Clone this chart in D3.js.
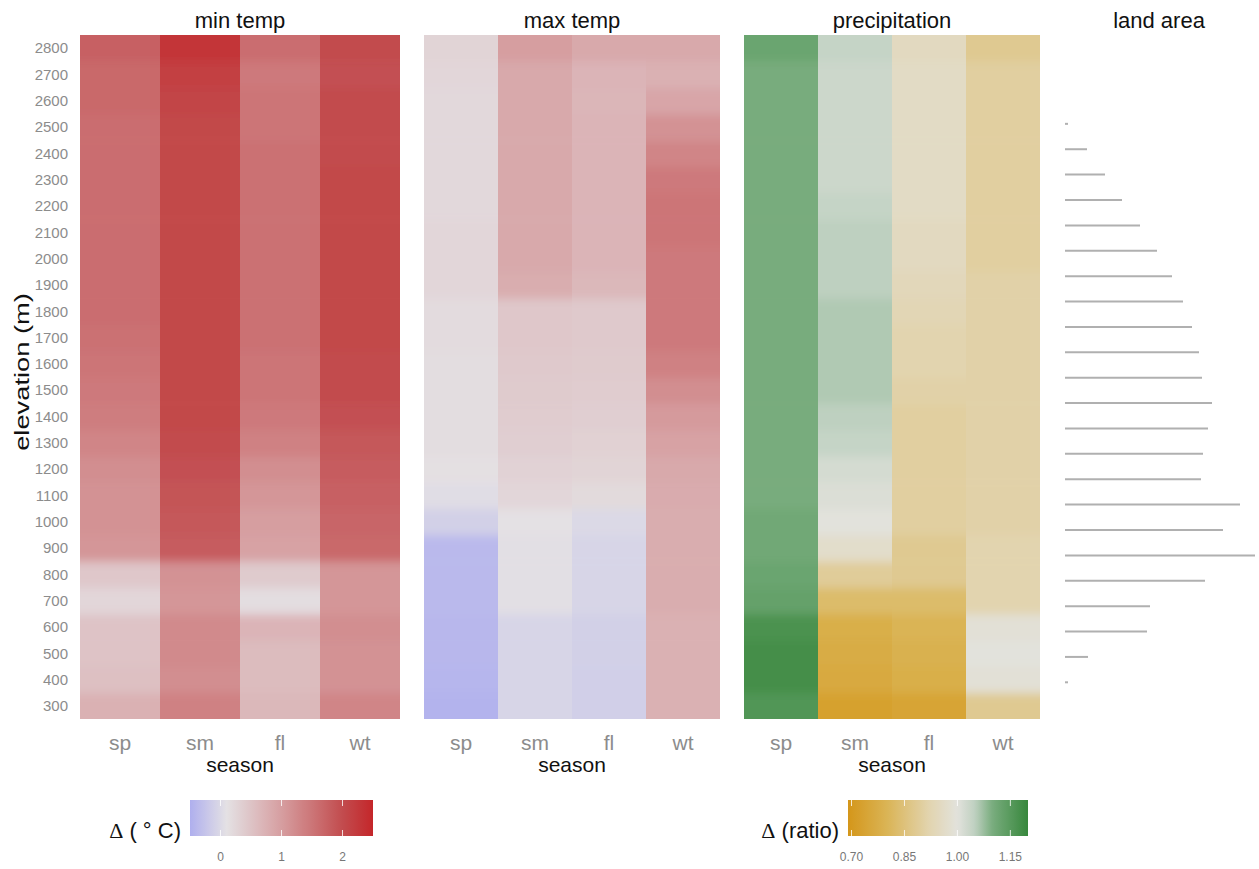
<!DOCTYPE html>
<html>
<head>
<meta charset="utf-8">
<script src="https://cdn.jsdelivr.net/npm/d3@7"></script>
<style>
  body { margin: 0; background: #fff; }
  svg { display: block; font-family: "Liberation Sans", Arial, sans-serif; }
</style>
</head>
<body>
<svg id="chart" width="1259" height="869"></svg>
<script>
// ---- data -------------------------------------------------------------
const seasons = ["sp", "sm", "fl", "wt"];
// elevation bins (m), 100 m wide, bottom to top
const elevations = [300, 400, 500, 600, 700, 800, 900, 1000, 1100, 1200, 1300, 1400, 1500,
  1600, 1700, 1800, 1900, 2000, 2100, 2200, 2300, 2400, 2500, 2600, 2700, 2800];

// change in minimum temperature (°C), one row per season, bottom to top
const minTemp = [
  [0.75, 0.55, 0.5, 0.5, 0.25, 0.45, 1.1, 1.15, 1.15, 1.2, 1.3, 1.4, 1.45, 1.5, 1.55, 1.6, 1.6, 1.6, 1.6, 1.6, 1.6, 1.6, 1.6, 1.65, 1.65, 1.75],
  [1.35, 1.2, 1.25, 1.25, 1.1, 1.15, 1.8, 1.85, 1.9, 1.95, 2.0, 2.05, 2.05, 2.05, 2.05, 2.05, 2.05, 2.05, 2.05, 2.05, 2.05, 2.05, 2.05, 2.1, 2.15, 2.3],
  [0.65, 0.6, 0.6, 0.7, 0.15, 0.4, 0.95, 1.0, 1.1, 1.2, 1.35, 1.45, 1.5, 1.5, 1.55, 1.55, 1.55, 1.55, 1.55, 1.55, 1.55, 1.55, 1.5, 1.5, 1.45, 1.6],
  [1.3, 1.15, 1.15, 1.2, 1.1, 1.1, 1.65, 1.7, 1.75, 1.8, 1.85, 1.95, 2.0, 2.0, 2.05, 2.05, 2.05, 2.05, 2.05, 2.05, 2.05, 2.0, 2.0, 2.0, 1.95, 2.0]
];

// change in maximum temperature (°C)
const maxTemp = [
  [-0.45, -0.42, -0.4, -0.4, -0.38, -0.38, -0.38, -0.1, 0.05, 0.12, 0.15, 0.15, 0.15, 0.15, 0.18, 0.18, 0.25, 0.25, 0.25, 0.22, 0.22, 0.22, 0.22, 0.22, 0.25, 0.28],
  [-0.05, -0.05, -0.05, -0.05, 0.08, 0.08, 0.08, 0.1, 0.25, 0.3, 0.35, 0.38, 0.4, 0.42, 0.45, 0.45, 0.8, 0.85, 0.85, 0.85, 0.85, 0.85, 0.85, 0.85, 0.85, 1.0],
  [-0.12, -0.12, -0.1, -0.1, -0.05, -0.05, -0.05, 0.0, 0.2, 0.28, 0.32, 0.35, 0.38, 0.4, 0.42, 0.42, 0.65, 0.7, 0.7, 0.7, 0.7, 0.7, 0.7, 0.68, 0.7, 0.85],
  [0.75, 0.75, 0.75, 0.75, 0.8, 0.8, 0.8, 0.8, 0.82, 0.85, 0.95, 1.05, 1.2, 1.35, 1.45, 1.45, 1.45, 1.45, 1.5, 1.5, 1.45, 1.3, 1.15, 0.9, 0.75, 0.85]
];

// change in precipitation (ratio)
const precip = [
  [1.16, 1.18, 1.18, 1.17, 1.13, 1.12, 1.11, 1.11, 1.1, 1.1, 1.1, 1.1, 1.1, 1.1, 1.1, 1.1, 1.1, 1.1, 1.1, 1.1, 1.1, 1.1, 1.1, 1.1, 1.1, 1.12],
  [0.73, 0.76, 0.77, 0.78, 0.83, 0.89, 0.97, 1.0, 1.01, 1.02, 1.04, 1.05, 1.06, 1.06, 1.06, 1.06, 1.05, 1.05, 1.05, 1.04, 1.03, 1.03, 1.03, 1.03, 1.03, 1.04],
  [0.74, 0.78, 0.79, 0.8, 0.83, 0.88, 0.88, 0.9, 0.9, 0.9, 0.9, 0.9, 0.91, 0.92, 0.92, 0.93, 0.94, 0.95, 0.95, 0.96, 0.96, 0.96, 0.96, 0.96, 0.96, 0.95],
  [0.88, 0.99, 1.0, 0.99, 0.92, 0.92, 0.92, 0.91, 0.91, 0.91, 0.91, 0.91, 0.91, 0.91, 0.91, 0.91, 0.91, 0.9, 0.9, 0.9, 0.9, 0.9, 0.9, 0.9, 0.9, 0.88]
];

// land area per elevation band (relative units)
const landElev = [300, 400, 500, 600, 700, 800, 900, 1000, 1100, 1200, 1300, 1400,
  1500, 1600, 1700, 1800, 1900, 2000, 2100, 2200, 2300, 2400, 2500];
const landArea = [3, 23, 82, 85, 140, 190, 158, 175, 136, 138, 143, 147,
  137, 134, 127, 118, 107, 92, 75, 57, 40, 22, 3];

const tempTicks = [0, 1, 2];
const ratioTicks = [0.70, 0.85, 1.00, 1.15];

// ---- scales -----------------------------------------------------------
const tempColor = d3.scaleLinear()
  .domain([-0.5, 0.1, 1.0, 2.0, 2.5])
  .range(["#afafee", "#e4e1e4", "#d69ea0", "#c24c4e", "#c4262a"])
  .clamp(true);

const ratioColor = d3.scaleLinear()
  .domain([0.69, 0.80, 0.92, 1.00, 1.05, 1.10, 1.20])
  .range(["#d4961a", "#dab455", "#e2d4af", "#e2e2dc", "#bed0c0", "#78ac7d", "#37873c"])
  .clamp(true);

const svg = d3.select("#chart");
const defs = svg.append("defs");

const y = d3.scaleLinear().domain([250, 2850]).range([719, 35]);

const panels = [
  { title: "min temp", data: minTemp, x0: 80, x1: 400, color: tempColor },
  { title: "max temp", data: maxTemp, x0: 424, x1: 720, color: tempColor },
  { title: "precipitation", data: precip, x0: 744, x1: 1040, color: ratioColor }
];

// soft smoothing of the tiles, mostly along elevation
defs.append("filter").attr("id", "vsoft")
  .attr("filterUnits", "userSpaceOnUse")
  .attr("x", 0).attr("y", 0).attr("width", 1259).attr("height", 869)
  .append("feGaussianBlur").attr("stdDeviation", "0.6 5");

panels.forEach((p, pi) => {
  const x = d3.scaleBand().domain(seasons).range([p.x0, p.x1]);
  const clipId = "clip" + pi;
  defs.append("clipPath").attr("id", clipId)
    .append("rect")
    .attr("x", p.x0).attr("y", y.range()[1])
    .attr("width", p.x1 - p.x0).attr("height", y.range()[0] - y.range()[1]);

  const g = svg.append("g").attr("clip-path", `url(#${clipId})`)
    .append("g").attr("filter", "url(#vsoft)");

  const cells = [];
  seasons.forEach((s, si) => {
    elevations.forEach((e, ei) => {
      cells.push({
        season: s, elev: e, value: p.data[si][ei],
        first: ei === 0, last: ei === elevations.length - 1,
        left: si === 0, right: si === seasons.length - 1
      });
    });
  });

  // edge tiles reach a little past the panel so the smoothing does not fade the border
  g.selectAll("rect").data(cells).join("rect")
    .attr("x", d => x(d.season) - (d.left ? 4 : 0))
    .attr("width", d => x.bandwidth() + (d.left ? 4 : 0) + (d.right ? 4 : 0))
    .attr("y", d => y(d.elev + 50) - (d.last ? 16 : 0))
    .attr("height", d => y(d.elev - 50) - y(d.elev + 50) + 0.6 + (d.last ? 16 : 0) + (d.first ? 16 : 0))
    .attr("fill", d => p.color(d.value));

  // panel title
  svg.append("text")
    .attr("x", (p.x0 + p.x1) / 2).attr("y", 28)
    .attr("text-anchor", "middle")
    .attr("font-size", 22).attr("fill", "#111")
    .text(p.title);

  // season axis
  const ax = svg.append("g").attr("transform", `translate(0,${y.range()[0]})`)
    .call(d3.axisBottom(x).tickSize(0).tickPadding(16));
  ax.select(".domain").remove();
  ax.selectAll("text").attr("font-size", 21).attr("fill", "#8c8c8c");

  svg.append("text")
    .attr("x", (p.x0 + p.x1) / 2).attr("y", 772)
    .attr("text-anchor", "middle")
    .attr("font-size", 21).attr("fill", "#111")
    .text("season");
});

// elevation axis
const ay = svg.append("g").attr("transform", "translate(80,0)")
  .call(d3.axisLeft(y).tickValues(elevations).tickFormat(d3.format("d")).tickSize(0).tickPadding(12));
ay.select(".domain").remove();
ay.selectAll("text").attr("font-size", 15).attr("fill", "#8c8c8c");

svg.append("text")
  .attr("transform", "translate(29,372) rotate(-90) scale(1.3,1)")
  .attr("text-anchor", "middle")
  .attr("font-size", 21).attr("fill", "#111")
  .text("elevation (m)");

// ---- land area --------------------------------------------------------
const landY = d3.scaleLinear().domain([250, 2850]).range([695, 35]);
const landX = d3.scaleLinear().domain([0, 194]).range([1065, 1259]);

svg.append("text")
  .attr("x", 1159).attr("y", 28)
  .attr("text-anchor", "middle")
  .attr("font-size", 22).attr("fill", "#111")
  .text("land area");

svg.append("g").selectAll("line").data(landElev).join("line")
  .attr("x1", landX(0))
  .attr("x2", (d, i) => landX(landArea[i]))
  .attr("y1", d => landY(d)).attr("y2", d => landY(d))
  .attr("stroke", "#b0b0b0").attr("stroke-width", 2);

// ---- colour legends ---------------------------------------------------
function legend(scale, domain, ticks, x0, x1, titleParts, fmt, id) {
  const lx = d3.scaleLinear().domain(domain).range([x0, x1]);
  const grad = defs.append("linearGradient").attr("id", id);
  d3.range(0, 1.0001, 0.02).forEach(t => {
    grad.append("stop").attr("offset", t)
      .attr("stop-color", scale(domain[0] + t * (domain[1] - domain[0])));
  });
  const top = 800, h = 36;
  svg.append("rect").attr("x", x0).attr("y", top)
    .attr("width", x1 - x0).attr("height", h)
    .attr("fill", `url(#${id})`);
  ticks.forEach(t => {
    [[top, top + 6], [top + h - 6, top + h]].forEach(([a, b]) => {
      svg.append("line").attr("x1", lx(t)).attr("x2", lx(t))
        .attr("y1", a).attr("y2", b)
        .attr("stroke", "#fff").attr("stroke-width", 1).attr("opacity", 0.8);
    });
    svg.append("text").attr("x", lx(t)).attr("y", 861)
      .attr("text-anchor", "middle").attr("font-size", 12).attr("fill", "#777")
      .text(fmt(t));
  });
  const title = svg.append("text").attr("x", x0 - 9).attr("y", 838)
    .attr("text-anchor", "end").attr("font-size", 22).attr("fill", "#111");
  title.append("tspan").attr("font-family", "'Liberation Serif', 'DejaVu Serif', serif").text("Δ");
  title.append("tspan").text(titleParts);
}

legend(tempColor, [-0.5, 2.5], tempTicks, 190, 373, " ( ° C)", d3.format("d"), "gradTemp");
legend(ratioColor, [0.69, 1.2], ratioTicks, 848, 1028, " (ratio)", d3.format(".2f"), "gradRatio");
</script>
</body>
</html>
